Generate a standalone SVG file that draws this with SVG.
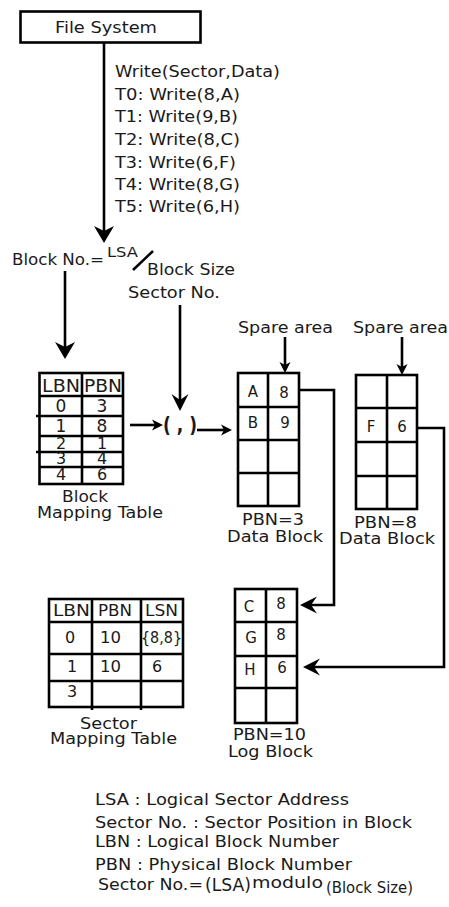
<svg xmlns="http://www.w3.org/2000/svg" width="449" height="907" viewBox="0 0 449 907">
<style>
text{font-family:"DejaVu Sans","Liberation Sans",sans-serif;fill:#1a1a1a}
.s16{font-size:16px}
.s15{font-size:15px}
.s17{font-size:17px}
.m{text-anchor:middle}
.bx{fill:none;stroke:#000;stroke-width:2.6}
.ln{fill:none;stroke:#000;stroke-width:2.6}
.ah{fill:#000;stroke:none}
</style>
<defs>
<marker id="big" markerUnits="userSpaceOnUse" markerWidth="30" markerHeight="30" orient="auto" overflow="visible" refX="0" refY="0"><path class="ah" d="M8,0 L-9,-10 L-4,0 L-9,10 Z"/></marker>
<marker id="med" markerUnits="userSpaceOnUse" markerWidth="30" markerHeight="30" orient="auto" overflow="visible" refX="0" refY="0"><path class="ah" d="M8,0 L-9,-8.5 L-3,0 L-9,8.5 Z"/></marker>
<marker id="sml" markerUnits="userSpaceOnUse" markerWidth="20" markerHeight="20" orient="auto" overflow="visible" refX="0" refY="0"><path class="ah" d="M5,0 L-6,-5.5 L-3,0 L-6,5.5 Z"/></marker>
</defs>
<rect width="449" height="907" fill="#fff"/>

<g id="file-system">
<rect class="bx" x="20.5" y="11.5" width="180" height="31"/>
<text class="s16" x="55" y="33" textLength="102" lengthAdjust="spacingAndGlyphs">File System</text>
</g>

<g id="write-labels">
<text class="s16" x="115" y="77" textLength="165" lengthAdjust="spacingAndGlyphs">Write(Sector,Data)</text>
<text class="s16" x="115" y="100" textLength="125" lengthAdjust="spacingAndGlyphs">T0: Write(8,A)</text>
<text class="s16" x="115" y="122" textLength="123" lengthAdjust="spacingAndGlyphs">T1: Write(9,B)</text>
<text class="s16" x="115" y="145" textLength="125" lengthAdjust="spacingAndGlyphs">T2: Write(8,C)</text>
<text class="s16" x="115" y="168" textLength="121" lengthAdjust="spacingAndGlyphs">T3: Write(6,F)</text>
<text class="s16" x="115" y="190" textLength="125" lengthAdjust="spacingAndGlyphs">T4: Write(8,G)</text>
<text class="s16" x="115" y="212" textLength="125" lengthAdjust="spacingAndGlyphs">T5: Write(6,H)</text>
</g>

<g id="address-formula">
<text class="s16" x="12" y="265" textLength="92" lengthAdjust="spacingAndGlyphs">Block No.=</text>
<text style="font-size:14px" x="107" y="257" textLength="31" lengthAdjust="spacingAndGlyphs">LSA</text>
<line x1="133" y1="270" x2="153" y2="251" stroke="#000" stroke-width="2.5"/>
<text class="s16" x="147" y="275" textLength="88" lengthAdjust="spacingAndGlyphs">Block Size</text>
<text class="s16" x="128" y="298" textLength="92" lengthAdjust="spacingAndGlyphs">Sector No.</text>
</g>

<g id="block-mapping-table">
<rect class="bx" x="39.5" y="373" width="83.5" height="111"/>
<line class="ln" x1="82" y1="373" x2="82" y2="484"/>
<line class="ln" x1="39.5" y1="396" x2="123" y2="396"/>
<line class="ln" x1="36" y1="416" x2="123" y2="416"/>
<line class="ln" x1="39.5" y1="436" x2="123" y2="436"/>
<line class="ln" x1="36" y1="452" x2="123" y2="452"/>
<line class="ln" x1="39.5" y1="467" x2="123" y2="467"/>
<text class="s17" x="42" y="392" textLength="38" lengthAdjust="spacingAndGlyphs">LBN</text>
<text class="s17" x="84" y="392" textLength="38" lengthAdjust="spacingAndGlyphs">PBN</text>
<text class="s17 m" x="61" y="412">0</text><text class="s17 m" x="102" y="412">3</text>
<text class="s17 m" x="61" y="432">1</text><text class="s17 m" x="102" y="432">8</text>
<text class="s16 m" x="61" y="449">2</text><text class="s16 m" x="102" y="449">1</text>
<text class="s16 m" x="61" y="464">3</text><text class="s16 m" x="102" y="464">4</text>
<text class="s16 m" x="61" y="480">4</text><text class="s16 m" x="102" y="480">6</text>
<text class="s16" x="62" y="502" textLength="46" lengthAdjust="spacingAndGlyphs">Block</text>
<text class="s16" x="37" y="518" textLength="126" lengthAdjust="spacingAndGlyphs">Mapping Table</text>
</g>

<g id="tuple">
<text style="font-size:22px;font-weight:bold" x="163" y="432" textLength="34" lengthAdjust="spacingAndGlyphs">( , )</text>
</g>

<g id="data-block-pbn3">
<text class="s16" x="238" y="333" textLength="95" lengthAdjust="spacingAndGlyphs">Spare area</text>
<rect class="bx" x="238" y="373" width="61" height="133"/>
<line class="ln" x1="268" y1="373" x2="268" y2="506"/>
<line class="ln" x1="238" y1="407" x2="299" y2="407"/>
<line class="ln" x1="238" y1="440" x2="299" y2="440"/>
<line class="ln" x1="238" y1="473" x2="299" y2="473"/>
<text class="s15 m" x="253" y="397">A</text><text class="s15 m" x="284" y="398">8</text>
<text class="s15 m" x="253" y="428">B</text><text class="s15 m" x="285" y="428">9</text>
<text class="s16" x="242" y="525" textLength="62" lengthAdjust="spacingAndGlyphs">PBN=3</text>
<text class="s16" x="227" y="542" textLength="96" lengthAdjust="spacingAndGlyphs">Data Block</text>
</g>

<g id="data-block-pbn8">
<text class="s16" x="353" y="333" textLength="95" lengthAdjust="spacingAndGlyphs">Spare area</text>
<rect class="bx" x="356" y="375" width="61" height="134"/>
<line class="ln" x1="387" y1="375" x2="387" y2="509"/>
<line class="ln" x1="356" y1="408" x2="417" y2="408"/>
<line class="ln" x1="356" y1="442" x2="417" y2="442"/>
<line class="ln" x1="356" y1="476" x2="417" y2="476"/>
<text class="s15 m" x="371" y="432">F</text><text class="s15 m" x="402" y="432">6</text>
<text class="s16" x="354" y="528" textLength="63" lengthAdjust="spacingAndGlyphs">PBN=8</text>
<text class="s16" x="339" y="544" textLength="96" lengthAdjust="spacingAndGlyphs">Data Block</text>
</g>

<g id="sector-mapping-table">
<rect class="bx" x="49" y="599" width="134" height="108"/>
<line class="ln" x1="92" y1="599" x2="92" y2="710"/>
<line class="ln" x1="141" y1="599" x2="141" y2="710"/>
<line class="ln" x1="49" y1="622" x2="183" y2="622"/>
<line class="ln" x1="49" y1="654" x2="183" y2="654"/>
<line class="ln" x1="49" y1="681" x2="183" y2="681"/>
<text class="s16" x="53" y="616" textLength="37" lengthAdjust="spacingAndGlyphs">LBN</text>
<text class="s16" x="98" y="616" textLength="34" lengthAdjust="spacingAndGlyphs">PBN</text>
<text class="s16" x="145" y="616" textLength="33" lengthAdjust="spacingAndGlyphs">LSN</text>
<text class="s16 m" x="70" y="643">0</text>
<text class="s16" x="100" y="643" textLength="21" lengthAdjust="spacingAndGlyphs">10</text>
<text class="s16" x="141" y="643" textLength="41" lengthAdjust="spacingAndGlyphs">{8,8}</text>
<text class="s16 m" x="72" y="672">1</text>
<text class="s16" x="100" y="672" textLength="21" lengthAdjust="spacingAndGlyphs">10</text>
<text class="s16 m" x="157" y="672">6</text>
<text class="s16 m" x="72" y="697">3</text>
<text class="s16" x="80" y="729" textLength="57" lengthAdjust="spacingAndGlyphs">Sector</text>
<text class="s16" x="50" y="744" textLength="127" lengthAdjust="spacingAndGlyphs">Mapping Table</text>
</g>

<g id="log-block-pbn10">
<rect class="bx" x="235" y="589" width="62" height="134"/>
<line class="ln" x1="266" y1="589" x2="266" y2="723"/>
<line class="ln" x1="235" y1="622" x2="297" y2="622"/>
<line class="ln" x1="235" y1="656" x2="297" y2="656"/>
<line class="ln" x1="235" y1="688" x2="297" y2="688"/>
<text class="s15 m" x="249" y="612">C</text><text class="s15 m" x="281" y="609">8</text>
<text class="s15 m" x="251" y="643">G</text><text class="s15 m" x="281" y="640">8</text>
<text class="s15 m" x="250" y="675">H</text><text class="s15 m" x="282" y="673">6</text>
<text class="s16" x="233" y="740" textLength="73" lengthAdjust="spacingAndGlyphs">PBN=10</text>
<text class="s16" x="228" y="757" textLength="85" lengthAdjust="spacingAndGlyphs">Log Block</text>
</g>

<g id="legend">
<text class="s15" x="95" y="805" textLength="254" lengthAdjust="spacingAndGlyphs">LSA : Logical Sector Address</text>
<text class="s15" x="95" y="828" textLength="317" lengthAdjust="spacingAndGlyphs">Sector No. : Sector Position in Block</text>
<text class="s15" x="95" y="847" textLength="244" lengthAdjust="spacingAndGlyphs">LBN : Logical Block Number</text>
<text class="s15" x="95" y="870" textLength="257" lengthAdjust="spacingAndGlyphs">PBN : Physical Block Number</text>
<text class="s15" x="98" y="890" textLength="105" lengthAdjust="spacingAndGlyphs">Sector No.=</text>
<text style="font-size:18px" x="205" y="891" textLength="46" lengthAdjust="spacingAndGlyphs">(LSA)</text>
<text class="s15" x="252" y="888" textLength="71" lengthAdjust="spacingAndGlyphs">modulo</text>
<text class="s15" x="326" y="893" textLength="87" lengthAdjust="spacingAndGlyphs">(Block Size)</text>
</g>

<g id="connectors">
<line class="ln" x1="104" y1="43" x2="104" y2="235" stroke-width="3" marker-end="url(#big)"/>
<line class="ln" x1="65" y1="271" x2="65" y2="351" stroke-width="3" marker-end="url(#big)"/>
<line class="ln" x1="180" y1="305" x2="180" y2="403" stroke-width="3" marker-end="url(#med)"/>
<line class="ln" x1="285" y1="337" x2="285" y2="368" marker-end="url(#sml)"/>
<line class="ln" x1="402" y1="337" x2="402" y2="370" marker-end="url(#sml)"/>
<line class="ln" x1="130" y1="425" x2="158" y2="425" marker-end="url(#sml)"/>
<line class="ln" x1="197" y1="430" x2="227" y2="430" marker-end="url(#sml)"/>
<path class="ln" d="M299,390 H334 V605 H308" marker-end="url(#med)"/>
<path class="ln" d="M417,428 H444 V667 H311" marker-end="url(#med)"/>
</g>
</svg>
